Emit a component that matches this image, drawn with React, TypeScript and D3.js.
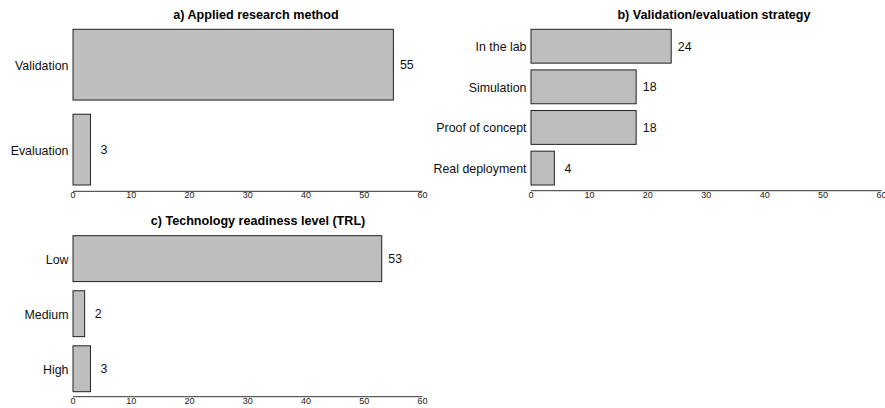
import React from "react";
import * as d3 from "d3";

const titleA = "a) Applied research method";
const categoriesA = ["Validation", "Evaluation"];
const valuesA = [55, 3];

const titleB = "b) Validation/evaluation strategy";
const categoriesB = ["In the lab", "Simulation", "Proof of concept", "Real deployment"];
const valuesB = [24, 18, 18, 4];

const titleC = "c) Technology readiness level (TRL)";
const categoriesC = ["Low", "Medium", "High"];
const valuesC = [53, 2, 3];

const xTicks = [0, 10, 20, 30, 40, 50, 60];
const xDomain = [0, 60];

const FONT = "'Liberation Sans', Arial, Helvetica, sans-serif";

type PanelProps = {
  title: string;
  categories: string[];
  values: number[];
  x0: number;
  x1: number;
  y0: number;
  y1: number;
  axisY: number;
  titleX: number;
  titleY: number;
};

function Panel(p: PanelProps) {
  const x = d3.scaleLinear().domain(xDomain).range([p.x0, p.x1]);
  const y = d3
    .scaleBand<string>()
    .domain(p.categories)
    .range([p.y0, p.y1])
    .paddingInner(1 / 6)
    .paddingOuter(0);
  return (
    <g>
      <text
        x={p.titleX}
        y={p.titleY}
        textAnchor="middle"
        fontFamily={FONT}
        fontWeight="bold"
        fontSize={12.6}
        fill="#000"
      >
        {p.title}
      </text>
      {p.categories.map((c, i) => {
        const yy = y(c) as number;
        const bw = y.bandwidth();
        return (
          <g key={c}>
            <rect
              x={x(0)}
              y={yy}
              width={x(p.values[i]) - x(0)}
              height={bw}
              fill="#bebebe"
              stroke="#222"
              strokeWidth={1}
            />
            <text
              x={x(0) - 4.5}
              y={yy + bw / 2 + 1}
              textAnchor="end"
              dominantBaseline="central"
              fontFamily={FONT}
              fontSize={12.4}
              fill="#111"
            >
              {c}
            </text>
            <text
              x={x(p.values[i]) + 13.5}
              y={yy + bw / 2 + 0.5}
              textAnchor="middle"
              dominantBaseline="central"
              fontFamily={FONT}
              fontSize={12.4}
              fill="#111"
            >
              {p.values[i]}
            </text>
          </g>
        );
      })}
      <line
        x1={x(xDomain[0])}
        x2={x(xDomain[1])}
        y1={p.axisY}
        y2={p.axisY}
        stroke="#333"
        strokeWidth={1}
      />
      {xTicks.map((t) => (
        <text
          key={t}
          x={x(t)}
          y={p.axisY + 7}
          textAnchor="middle"
          fontFamily={FONT}
          fontSize={9}
          fill="#222"
        >
          {t}
        </text>
      ))}
    </g>
  );
}

export default function App() {
  return (
    <svg
      width={885}
      height={408}
      style={{ position: "absolute", left: 0, top: 0, background: "#fff" }}
    >
      <rect x={0} y={0} width={885} height={408} fill="#fff" />
      <Panel
        title={titleA}
        categories={categoriesA}
        values={valuesA}
        x0={73}
        x1={422.5}
        y0={29.3}
        y1={185}
        axisY={191.3}
        titleX={256}
        titleY={18.7}
      />
      <Panel
        title={titleB}
        categories={categoriesB}
        values={valuesB}
        x0={531}
        x1={881.5}
        y0={29.3}
        y1={185}
        axisY={190.7}
        titleX={714}
        titleY={18.7}
      />
      <Panel
        title={titleC}
        categories={categoriesC}
        values={valuesC}
        x0={73}
        x1={422.5}
        y0={235.7}
        y1={391.7}
        axisY={396.7}
        titleX={258}
        titleY={225}
      />
    </svg>
  );
}
